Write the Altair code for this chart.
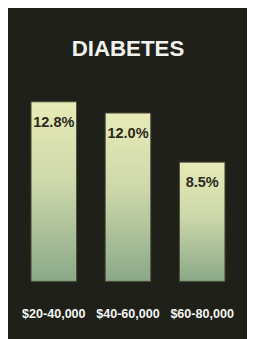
import altair as alt
import pandas as pd

categories = ["$20-40,000", "$40-60,000", "$60-80,000"]
values = [12.8, 12.0, 8.5]
labels = ["12.8%", "12.0%", "8.5%"]

df = pd.DataFrame({"income": categories, "rate": values, "label": labels})

FONT = "'Liberation Sans Narrow', 'Liberation Sans', Arial, sans-serif"

x = alt.X(
    "income:N",
    sort=categories,
    title=None,
    scale=alt.Scale(paddingInner=0.386, paddingOuter=0.193),
    axis=alt.Axis(
        labelAngle=0,
        domain=False,
        ticks=False,
        grid=False,
        labelColor="#f4f4f0",
        labelFont=FONT,
        labelFontWeight="bold",
        labelFontSize=13,
        labelBaseline="middle",
        labelPadding=33,
    ),
)
y = alt.Y("rate:Q", axis=None, scale=alt.Scale(domain=[0, 14], nice=False))

grad = alt.Gradient(
    gradient="linear",
    stops=[
        alt.GradientStop(color="#e8eab8", offset=0),
        alt.GradientStop(color="#cdd8aa", offset=0.45),
        alt.GradientStop(color="#8aa888", offset=1),
    ],
    x1=0, x2=0, y1=0, y2=1,
)

bars = alt.Chart(df).mark_bar(color=grad, stroke="#4a4c34", strokeWidth=1).encode(x=x, y=y)
text = alt.Chart(df).mark_text(
    dy=21, baseline="middle", color="#2b2a1c", font=FONT, fontWeight="bold", fontSize=15
).encode(x=x, y=y, text="label:N")

chart = (
    (bars + text)
    .properties(
        width=230,
        height=203,
        background="#1e2019",
        padding={"left": 9, "top": 74, "right": 8, "bottom": 54},
        autosize=alt.AutoSizeParams(type="none"),
        title=alt.TitleParams(
            text="DIABETES",
            color="#f2f2ee",
            font=FONT,
            fontSize=23,
            fontWeight="bold",
            anchor="middle",
            baseline="alphabetic",
            offset=7,
        ),
    )
    .configure_view(stroke=None)
)

chart.save("out.html", embed_options={"renderer": "svg", "actions": False})
